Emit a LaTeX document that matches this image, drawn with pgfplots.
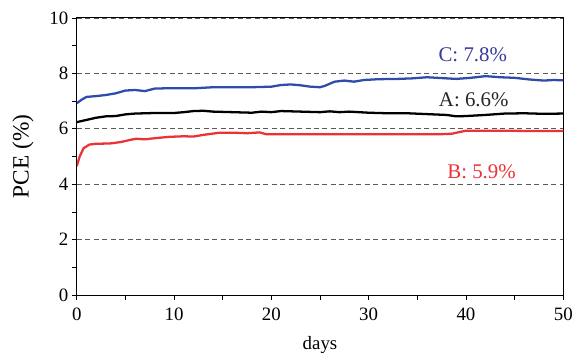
\documentclass[border=0pt]{standalone}
\usepackage{pgfplots}
\pgfplotsset{compat=1.18}
\usepackage{fontspec}
\setmainfont{Liberation Serif}
\definecolor{cblue}{RGB}{48,76,170}
\definecolor{ctblue}{RGB}{55,58,155}
\definecolor{cred}{RGB}{235,50,55}
\begin{document}
\begin{tikzpicture}[font=\fontsize{19}{23}\selectfont]
\begin{axis}[
  scale only axis,
  width=488bp, height=278bp,
  xmin=0, xmax=50, ymin=0, ymax=10,
  xtick={0,10,20,30,40,50},
  minor xtick={5,15,25,35,45},
  ytick={0,2,4,6,8,10},
  minor ytick={1,3,5,7,9},
  tick align=outside,
  xtick pos=left, ytick pos=left,
  major tick length=5bp, minor tick length=5bp,
  ymajorgrids,
  major grid style={dash pattern=on 5bp off 3.5bp, gray!70!black, line width=0.6pt},
  axis line style={line width=0.9pt},
  every tick/.style={black, line width=0.7pt},
  xlabel={days}, ylabel={PCE (\%)},
  xticklabel shift=4bp,
  xlabel shift=9bp,
  ylabel shift=9bp,
  /pgf/number format/assume math mode=true,
  tick label style={font=\fontsize{19}{23}\selectfont},
  xlabel style={font=\fontsize{19}{23}\selectfont},
  ylabel style={font=\fontsize{23.5}{28}\selectfont},
]
\addplot[cblue, line width=2.3pt] coordinates {
(0,6.92) (0.5,7.05) (1,7.15) (2,7.18) (3,7.22) (4,7.28) (5,7.38) (6,7.4) (7,7.36) (8,7.45) (9,7.46) (10,7.46) (12,7.46) (13,7.48) (14,7.5) (16,7.5) (18,7.5) (20,7.52) (21,7.58) (22,7.6) (23,7.57) (24,7.52) (25,7.5) (25.5,7.55) (26.5,7.7) (27.5,7.74) (28.5,7.7) (29.5,7.76) (31,7.79) (33,7.8) (34.5,7.82) (36,7.86) (37.5,7.83) (39,7.8) (40.5,7.84) (42,7.9) (43.5,7.86) (45,7.84) (46.5,7.78) (48,7.74) (49,7.76) (50,7.75)
};
\addplot[black, line width=2.3pt] coordinates {
(0,6.24) (1,6.32) (2,6.4) (3,6.45) (4,6.46) (5,6.52) (6,6.55) (7,6.56) (8,6.57) (10,6.57) (11,6.6) (12,6.64) (13,6.65) (14,6.62) (16,6.6) (18,6.58) (19,6.62) (20,6.6) (21,6.64) (22,6.63) (23,6.62) (25,6.6) (26,6.63) (27,6.6) (28,6.62) (30,6.58) (32,6.56) (34,6.56) (36,6.53) (38,6.5) (39,6.45) (40,6.46) (42,6.5) (44,6.55) (46,6.56) (48,6.54) (50,6.55)
};
\addplot[cred, line width=2.3pt] coordinates {
(0,4.65) (0.3,5.0) (0.7,5.3) (1.3,5.43) (2,5.46) (3.4,5.47) (4.5,5.52) (5.5,5.6) (6.1,5.64) (7,5.62) (8,5.66) (9.5,5.71) (11,5.73) (12,5.72) (13,5.78) (14.7,5.86) (16,5.86) (17.5,5.84) (18.8,5.87) (19.5,5.8) (22,5.8) (26,5.8) (30,5.8) (34,5.8) (37,5.8) (38.5,5.82) (40,5.93) (44,5.93) (47,5.92) (50,5.92)
};
\node[ctblue, font=\fontsize{21}{25}\selectfont] at (axis cs:40.7,8.67) {C: 7.8\%};
\node[black!85, font=\fontsize{21}{25}\selectfont] at (axis cs:40.8,7.06) {A: 6.6\%};
\node[cred, font=\fontsize{21}{25}\selectfont] at (axis cs:41.6,4.46) {B: 5.9\%};
\end{axis}
\path (current axis.south west) ++(-77bp,-61bp);
\path (current axis.north east) ++(11bp,18bp);
\end{tikzpicture}
\end{document}
